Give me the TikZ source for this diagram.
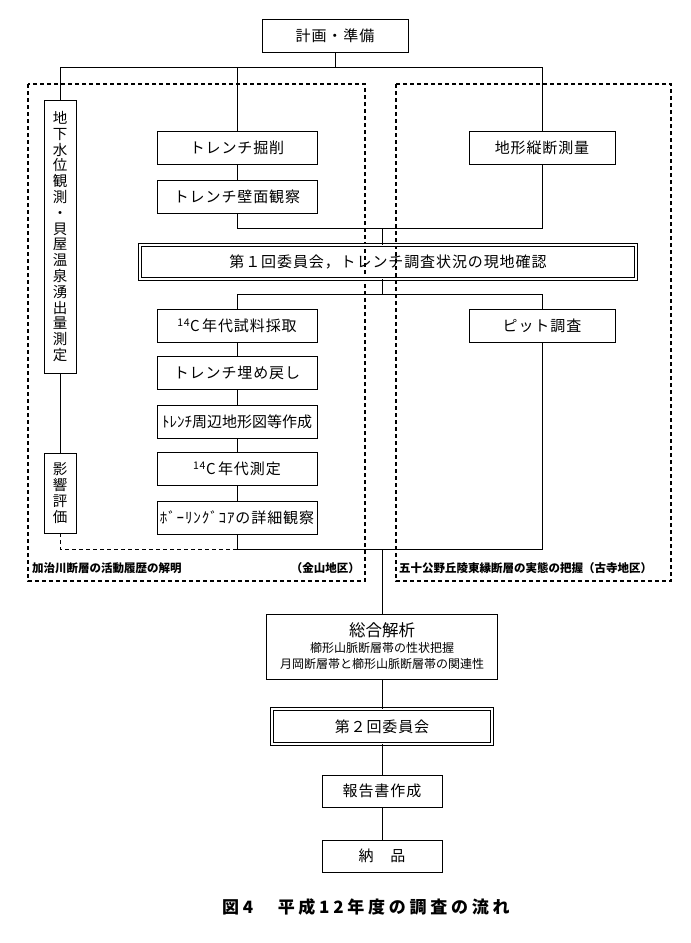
\documentclass[tikz,border=0pt]{standalone}
\usepackage{fontspec}
\setmainfont{Noto Sans CJK JP}
\newfontfamily\boxfont[LetterSpace=6]{Noto Sans CJK JP}
\newfontfamily\capfont[LetterSpace=22]{Noto Sans CJK JP}
\usetikzlibrary{positioning}

\tikzset{
  box/.style={draw, line width=0.9pt, minimum height=33pt, inner sep=2pt,
    font=\fontsize{15}{18}\boxfont},
  dbox/.style={box, double, double distance=1.6pt},
  vbox/.style={draw, line width=0.9pt, minimum width=32pt, inner sep=0pt,
    align=center, font=\fontsize{14.5}{15.8}\selectfont},
  area/.style={dash pattern=on 4pt off 3pt, line width=1.1pt},
  link/.style={line width=0.9pt},
  dlink/.style={link, dash pattern=on 4pt off 3pt},
  arealabel/.style={inner sep=0pt, font=\fontsize{11.5}{13}\selectfont\bfseries},
}

\begin{document}
\begin{tikzpicture}[x=1pt, y=-1pt]
  \useasboundingbox (0,0) rectangle (691,943);

  % survey areas
  \draw[area] (28,84) rectangle (365,581);
  \draw[area] (396,84) rectangle (671,581);
  \node[arealabel, anchor=west] (kajilabel) at (32,568) {加治川断層の活動履歴の解明};
  \node[arealabel, anchor=east] (kanayama) at (360,568) {（金山地区）};
  \node[arealabel, anchor=west] (igilabel) at (399,568) {五十公野丘陵東縁断層の実態の把握（古寺地区）};

  % planning and first branch
  \node[box, minimum width=146pt] (plan) at (335,36) {計画・準備};
  \node[vbox, minimum height=273pt] (gw) at (60,236.5)
    {地\\下\\水\\位\\観\\測\\・\\貝\\屋\\温\\泉\\湧\\出\\量\\測\\定};
  \node[box, minimum width=160pt] (trench) at (237,148) {トレンチ掘削};
  \node[box, minimum width=160pt] (wall) at (237,196.5) {トレンチ壁面観察};
  \node[box, minimum width=146pt] (topo) at (542,148) {地形縦断測量};

  % first committee
  \node[dbox, minimum width=496pt, minimum height=34pt] (meet1) at (388,262)
    {第１回委員会，トレンチ調査状況の現地確認};

  % second branch
  \node[box, minimum width=160pt] (c14s) at (237,326) {\textsuperscript{14}C\,年代試料採取};
  \node[box, minimum width=146pt] (pit) at (542,326) {ピット調査};
  \node[box, minimum width=160pt] (backfill) at (237,373) {トレンチ埋め戻し};
  \node[box, minimum width=160pt, font=\fontsize{15}{18}\selectfont] (map) at (237,422)
    {ﾄﾚﾝﾁ周辺地形図等作成};
  \node[box, minimum width=160pt] (c14d) at (237,469) {\textsuperscript{14}C\,年代測定};
  \node[box, minimum width=160pt] (boring) at (237,517.5) {ﾎﾞｰﾘﾝｸﾞｺｱの詳細観察};
  \node[vbox, minimum height=80pt] (effect) at (60,493) {影\\響\\評\\価};

  % analysis and closing
  \node[box, minimum width=231pt, minimum height=65pt, align=center,
    font=\fontsize{12}{16}\selectfont] (synth) at (382,646.5)
    {{\fontsize{16.5}{16}\selectfont 総合解析}\\
     櫛形山脈断層帯の性状把握\\
     月岡断層帯と櫛形山脈断層帯の関連性};
  \node[dbox, minimum width=220pt, minimum height=35pt] (meet2) at (382,726.5) {第２回委員会};
  \node[box, minimum width=120pt, minimum height=32pt] (report) at (382,791) {報告書作成};
  \node[box, minimum width=120pt, minimum height=32pt] (deliver) at (382,856) {納　品};

  \node[anchor=west, inner sep=0pt, font=\fontsize{17}{20}\capfont\bfseries]
    (caption) at (222,907) {図4　平成12年度の調査の流れ};

  % connectors
  \coordinate (split1) at (335,67);
  \coordinate (join1) at (382,228);
  \coordinate (split2) at (382,294);
  \coordinate (join2) at (382,549);
  \draw[link] (plan) -- (split1);
  \draw[link] (gw.north) |- (topo.north |- split1) -- (topo.north);
  \draw[link] (trench.north) -- (trench.north |- split1);
  \draw[link] (trench) -- (wall);
  \draw[link] (wall.south) |- (topo.south |- join1) -- (topo.south);
  \draw[link] (join1) -- (join1 |- meet1.north);
  \draw[link] (meet1.south -| split2) -- (split2);
  \draw[link] (c14s.north) |- (pit.north |- split2) -- (pit.north);
  \draw[link] (c14s) -- (backfill) -- (map) -- (c14d) -- (boring);
  \draw[link] (gw) -- (effect);
  \draw[dlink] (effect.south) |- (boring.south |- join2);
  \draw[link] (boring.south) |- (pit.south |- join2) -- (pit.south);
  \draw[link] (join2) -- (join2 |- synth.north);
  \draw[link] (synth) -- (meet2) -- (report) -- (deliver);
\end{tikzpicture}
\end{document}
